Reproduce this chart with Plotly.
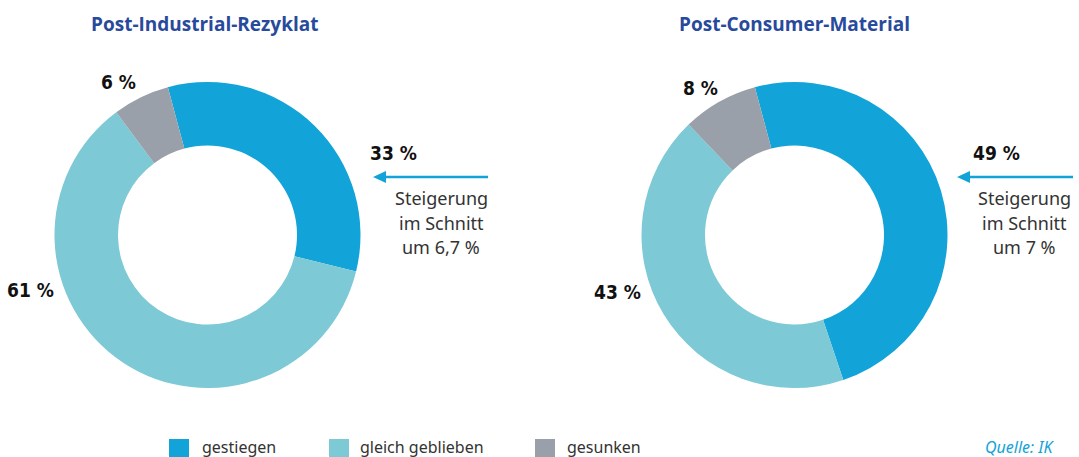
import plotly.graph_objects as go

W, H = 1079, 457

# Data
categories = ["gestiegen", "gleich geblieben", "gesunken"]
industrial_values = [33, 61, 6]
consumer_values = [49, 43, 8]
titles = ["Post-Industrial-Rezyklat", "Post-Consumer-Material"]
averages = ["um 6,7 %", "um 7 %"]
colors = ["#12a3d8", "#7dc9d5", "#9aa0a9"]

TITLE_COLOR = "#284a9c"
TEXT_COLOR = "#333333"
LABEL_FONT = "DejaVu Sans Condensed, Liberation Sans Narrow, sans-serif"
BODY_FONT = "Noto Sans, Open Sans, sans-serif"


def px(x):
    return x / W


def py(y):
    return 1 - y / H


fig = go.Figure()

# Donut layout: pixel centre and outer radius of each ring
rings = [(207.5, 235, 153), (794.5, 235, 153)]
for vals, (cx, cy, r) in zip([industrial_values, consumer_values], rings):
    fig.add_trace(go.Pie(
        labels=categories,
        values=vals,
        marker=dict(colors=colors, line=dict(width=0)),
        hole=0.585,
        sort=False,
        direction="clockwise",
        rotation=345,
        textinfo="none",
        hoverinfo="label+percent",
        showlegend=False,
        domain=dict(x=[px(cx - r), px(cx + r)], y=[py(cy + r), py(cy - r)]),
    ))

annotations = []
shapes = []

# Titles
for t, cx in zip(titles, [205, 794]):
    annotations.append(dict(x=px(cx), y=py(24), text=f"<b>{t}</b>", showarrow=False,
                            xanchor="center", yanchor="middle",
                            font=dict(family="Open Sans, sans-serif", size=19, color=TITLE_COLOR)))

# Percentage labels around the rings
label_pos = [
    [(393, 153), (31, 290), (118, 82)],
    [(996, 153), (617, 292), (700, 88)],
]
for vals, poss in zip([industrial_values, consumer_values], label_pos):
    for v, (x, y) in zip(vals, poss):
        annotations.append(dict(x=px(x), y=py(y), text=f"<b>{v} %</b>", showarrow=False,
                                xanchor="center", yanchor="middle",
                                font=dict(family=LABEL_FONT, size=19, color="#111111")))

# Arrows with the average increase note
arrow_spans = [(373, 488, 441), (957, 1073, 1024)]
for (x0, x1, tx), avg in zip(arrow_spans, averages):
    ay = 177
    shapes.append(dict(type="line", xref="paper", yref="paper",
                       x0=px(x0 + 8), x1=px(x1), y0=py(ay), y1=py(ay),
                       line=dict(color=colors[0], width=2.5)))
    shapes.append(dict(type="path", xref="paper", yref="paper",
                       path=(f"M {px(x0)} {py(ay)} L {px(x0 + 13)} {py(ay - 6)} "
                             f"L {px(x0 + 13)} {py(ay + 6)} Z"),
                       fillcolor=colors[0], line=dict(width=0)))
    for i, line in enumerate(["Steigerung", "im Schnitt", avg]):
        annotations.append(dict(x=px(tx), y=py(198 + 24.5 * i), text=line, showarrow=False,
                                xanchor="center", yanchor="middle",
                                font=dict(family=BODY_FONT, size=18, color=TEXT_COLOR)))

# Legend row
legend_x = [(169, 200), (329, 358), (535, 565)]
for (sx, tx), cat, col in zip(legend_x, categories, colors):
    shapes.append(dict(type="rect", xref="paper", yref="paper",
                       x0=px(sx), x1=px(sx + 20), y0=py(457), y1=py(439),
                       fillcolor=col, line=dict(width=0)))
    annotations.append(dict(x=px(tx), y=py(447), text=cat, showarrow=False,
                            xanchor="left", yanchor="middle",
                            font=dict(family=BODY_FONT, size=16, color=TEXT_COLOR)))

annotations.append(dict(x=px(1056), y=py(447), text="<i>Quelle: IK</i>", showarrow=False,
                        xanchor="right", yanchor="middle",
                        font=dict(family=BODY_FONT, size=16, color=colors[0])))

fig.update_layout(
    width=W, height=H,
    margin=dict(l=0, r=0, t=0, b=0),
    paper_bgcolor="white", plot_bgcolor="white",
    annotations=annotations, shapes=shapes,
)

fig.write_html("out.html", config={"displayModeBar": False})
